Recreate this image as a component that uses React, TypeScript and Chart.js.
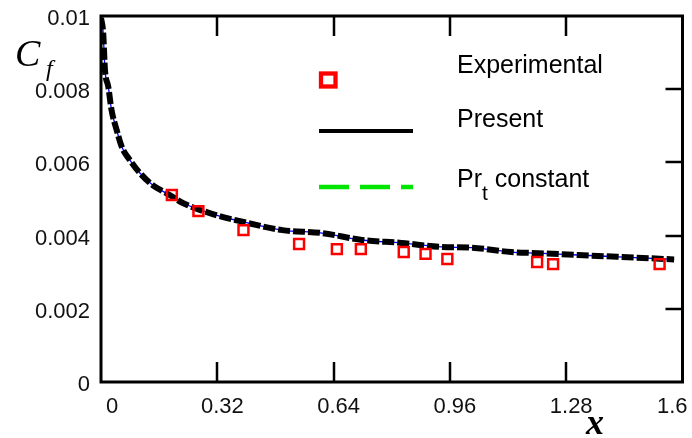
import React, { useEffect, useRef } from 'react';
import { Chart, registerables } from 'chart.js';

Chart.register(...registerables);

// ---- data ----
const xTickValues = [0, 0.32, 0.64, 0.96, 1.28, 1.6];
const xTickLabels = ['0', '0.32', '0.64', '0.96', '1.28', '1.6'];
const yTickValues = [0, 0.002, 0.004, 0.006, 0.008, 0.01];
const yTickLabels = ['0', '0.002', '0.004', '0.006', '0.008', '0.01'];

const presentX = [0, 0.006, 0.011, 0.02, 0.029, 0.043, 0.057, 0.079, 0.107, 0.142, 0.189, 0.225, 0.317, 0.389, 0.499, 0.608, 0.718, 0.827, 0.937, 1.019, 1.129, 1.203, 1.312, 1.422, 1.577];
const presentCf = [0.00995, 0.00954, 0.00852, 0.00807, 0.00743, 0.00689, 0.00643, 0.00607, 0.00571, 0.00538, 0.00511, 0.00489, 0.00456, 0.00438, 0.00415, 0.00407, 0.00388, 0.0038, 0.00369, 0.00367, 0.00355, 0.00352, 0.00347, 0.00342, 0.00335];

const expX = [0.195, 0.268, 0.392, 0.545, 0.649, 0.715, 0.833, 0.893, 0.953, 1.2, 1.244, 1.537];
const expCf = [0.00511, 0.00467, 0.00415, 0.00377, 0.00363, 0.00363, 0.00355, 0.0035, 0.00336, 0.00328, 0.00322, 0.00322];

const legendLabels = ['Experimental', 'Present', 'Pr', 't', ' constant'];

const tickFont = '"Liberation Sans", Arial, sans-serif';

const framePlugin = {
  id: 'frame',
  afterDraw(chart: any) {
    const { ctx, chartArea } = chart;
    const { left, right, top, bottom } = chartArea;
    const xs = chart.scales.x;
    const ys = chart.scales.y;
    ctx.save();
    ctx.strokeStyle = '#000';
    ctx.lineWidth = 3;
    ctx.strokeRect(left, top, right - left, bottom - top);
    // inward ticks
    ctx.lineWidth = 2.5;
    ctx.beginPath();
    xTickValues.slice(1, -1).forEach((v) => {
      const px = Math.round(xs.getPixelForValue(v));
      ctx.moveTo(px, top);
      ctx.lineTo(px, top + 20);
      ctx.moveTo(px, bottom);
      ctx.lineTo(px, bottom - 20);
    });
    yTickValues.slice(1, -1).forEach((v) => {
      const py = Math.round(ys.getPixelForValue(v));
      ctx.moveTo(right, py);
      ctx.lineTo(right - 17, py);
    });
    ctx.stroke();

    // legend
    const tx = 457;
    ctx.fillStyle = '#000';
    ctx.textBaseline = 'alphabetic';
    ctx.textAlign = 'left';
    ctx.font = '25px "Liberation Sans", Arial, sans-serif';
    ctx.fillText(legendLabels[0], tx, 73);
    ctx.fillText(legendLabels[1], tx, 127);
    ctx.fillText(legendLabels[2], tx, 187);
    const wPr = ctx.measureText(legendLabels[2]).width;
    ctx.font = '21px "Liberation Sans", Arial, sans-serif';
    ctx.fillText(legendLabels[3], tx + wPr, 200);
    const wt = ctx.measureText(legendLabels[3]).width;
    ctx.font = '25px "Liberation Sans", Arial, sans-serif';
    ctx.fillText(legendLabels[4], tx + wPr + wt, 187);

    // legend markers
    ctx.strokeStyle = '#ff0000';
    ctx.lineWidth = 4.3;
    ctx.strokeRect(321, 73.5, 14.5, 13);
    ctx.strokeStyle = '#000';
    ctx.lineWidth = 4;
    ctx.beginPath();
    ctx.moveTo(319, 131);
    ctx.lineTo(413, 131);
    ctx.stroke();
    ctx.strokeStyle = '#00e600';
    ctx.lineWidth = 4.5;
    ctx.setLineDash([30, 11]);
    ctx.beginPath();
    ctx.moveTo(319, 187);
    ctx.lineTo(413, 187);
    ctx.stroke();
    ctx.setLineDash([]);

    // axis titles
    ctx.font = 'italic 38px "Liberation Serif", "Times New Roman", serif';
    ctx.fillText('C', 15, 66);
    ctx.font = 'italic 24px "Liberation Serif", "Times New Roman", serif';
    ctx.fillText('f', 46, 76);
    ctx.font = 'bold italic 36px "Liberation Serif", "Times New Roman", serif';
    ctx.textAlign = 'center';
    ctx.fillText('x', 595, 434);
    ctx.restore();
  },
};

export default function App() {
  const ref = useRef<HTMLCanvasElement>(null);

  useEffect(() => {
    document.body.style.margin = '0';
    const canvas = ref.current;
    if (!canvas) return;
    const chart = new Chart(canvas, {
      type: 'scatter',
      data: {
        datasets: [
          {
            label: 'Experimental',
            data: expX.map((x, i) => ({ x, y: expCf[i] })),
            showLine: false,
            pointStyle: 'rect',
            pointRadius: 7,
            pointBorderWidth: 2.5,
            pointBorderColor: '#ff0000',
            pointBackgroundColor: 'rgba(0,0,0,0)',
          },
          {
            label: 'Present',
            data: presentX.map((x, i) => ({ x, y: presentCf[i] })),
            showLine: true,
            borderColor: '#000000',
            borderWidth: 6,
            borderDash: [12, 3],
            pointRadius: 0,
            cubicInterpolationMode: 'monotone',
            fill: false,
          },
          {
            label: 'Present (thin)',
            data: presentX.map((x, i) => ({ x, y: presentCf[i] })),
            showLine: true,
            borderColor: '#0000ff',
            borderWidth: 1.3,
            pointRadius: 0,
            cubicInterpolationMode: 'monotone',
            fill: false,
          },
        ] as any,
      },
      options: {
        responsive: false,
        animation: false,
        events: [],
        layout: { padding: { top: 16, right: 7, left: 0, bottom: 0 } },
        plugins: { legend: { display: false }, tooltip: { enabled: false }, title: { display: false } },
        scales: {
          x: {
            type: 'linear',
            min: 0,
            max: 1.6,
            afterBuildTicks: (s: any) => {
              s.ticks = xTickValues.map((v) => ({ value: v }));
            },
            afterFit: (s: any) => {
              s.height = 56;
              s.paddingLeft = 0;
              s.paddingRight = 0;
            },
            ticks: {
              callback: (_v: any, i: number) => xTickLabels[i],
              font: { family: tickFont, size: 22 },
              color: '#111',
              padding: 12,
              align: 'inner',
              labelOffset: 5,
              maxRotation: 0,
              autoSkip: false,
            },
            grid: { display: false, drawTicks: false },
            border: { display: false },
          },
          y: {
            type: 'linear',
            min: 0,
            max: 0.01,
            afterBuildTicks: (s: any) => {
              s.ticks = yTickValues.map((v) => ({ value: v }));
            },
            afterFit: (s: any) => {
              s.width = 101;
              s.paddingTop = 0;
              s.paddingBottom = 0;
            },
            ticks: {
              callback: (_v: any, i: number) => yTickLabels[i],
              font: { family: tickFont, size: 22 },
              color: '#111',
              padding: 11,
              labelOffset: 3,
              autoSkip: false,
            },
            grid: { display: false, drawTicks: false },
            border: { display: false },
          },
        },
      } as any,
      plugins: [framePlugin],
    });
    return () => chart.destroy();
  }, []);

  return (
    <div style={{ width: 692, height: 438 }}>
      <canvas ref={ref} width={692} height={438} style={{ display: 'block' }} />
    </div>
  );
}
